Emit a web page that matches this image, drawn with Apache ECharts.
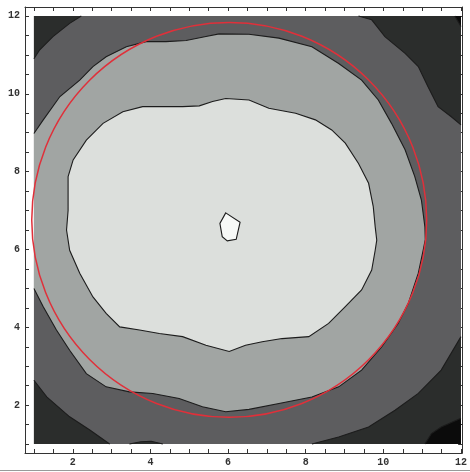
<!DOCTYPE html>
<html>
<head>
<meta charset="utf-8">
<script src="https://cdn.jsdelivr.net/npm/echarts@6/dist/echarts.min.js"></script>
<style>
  html, body { margin: 0; background: #fff; }
  #chart { width: 470px; height: 472px; }
</style>
</head>
<body>
<div id="chart"></div>
<script>
// axis frame and plot range (data units)
const xRange = [0.77, 12.03]
const yRange = [0.77, 12.23]
const plotBox = [[1, 1], [12, 1], [12, 12], [1, 12]]
const tickLabels = [2, 4, 6, 8, 10, 12]
const tickValues = [1, 1.5, 2, 2.5, 3, 3.5, 4, 4.5, 5, 5.5, 6, 6.5, 7, 7.5, 8, 8.5, 9, 9.5, 10, 10.5, 11, 11.5, 12]

// contour boundaries
const darkTopLeft = [[2.22, 12], [1.92, 11.81], [1.49, 11.47], [1.15, 11.13], [1, 10.9]]
const darkTopRight = [[9.36, 12], [9.70, 11.90], [10.04, 11.47], [10.56, 11.04], [10.90, 10.70], [11.15, 10.18], [11.41, 9.67], [11.75, 9.41], [12, 9.20]]
const darkBottomLeft = [[1, 2.64], [1.33, 2.21], [1.92, 1.70], [2.44, 1.36], [2.95, 1]]
const darkBottomRight = [[8.16, 1], [8.85, 1.18], [9.62, 1.44], [10.30, 1.87], [10.90, 2.30], [11.49, 2.90], [12, 3.76]]
const darkBump = [[3.46, 1], [3.75, 1.06], [4.02, 1.07], [4.32, 1]]
const blackTopRight = [[11.84, 12], [12, 11.73]]
const blackBottomRight = [[11.07, 1], [11.24, 1.27], [11.49, 1.44], [12, 1.66]]

const midBand = [
  [1, 8.98], [1.24, 9.33], [1.67, 9.93], [2.18, 10.35], [2.52, 10.70], [2.86, 10.95], [3.38, 11.21],
  [3.89, 11.34], [4.40, 11.34], [4.92, 11.37], [5.43, 11.47], [5.77, 11.54], [6.54, 11.53],
  [7.31, 11.43], [8.16, 11.21], [8.85, 10.78], [9.44, 10.35], [9.87, 9.84], [10.21, 9.24],
  [10.56, 8.56], [10.81, 7.87], [10.98, 7.27], [11.07, 6.58], [11.08, 6.25], [11.03, 6.0],
  [10.90, 5.39], [10.64, 4.61], [10.38, 4.10], [9.96, 3.50], [9.44, 2.90], [8.85, 2.47],
  [8.16, 2.21], [7.31, 2.04], [6.54, 1.89], [5.94, 1.83], [5.34, 1.96], [4.74, 2.17],
  [4.06, 2.30], [3.46, 2.34], [2.86, 2.47], [2.35, 2.81], [1.92, 3.41], [1.58, 3.93],
  [1.24, 4.53], [1, 5.0]
]

const innerBlob = [
  [1.88, 7.87], [2.01, 8.30], [2.35, 8.81], [2.78, 9.24], [3.29, 9.54], [3.80, 9.67], [4.32, 9.67],
  [4.83, 9.67], [5.26, 9.69], [5.60, 9.80], [5.94, 9.88], [6.54, 9.84], [7.05, 9.63], [7.74, 9.50],
  [8.25, 9.33], [8.67, 9.07], [9.02, 8.73], [9.36, 8.21], [9.62, 7.70], [9.74, 7.10], [9.79, 6.58],
  [9.83, 6.24], [9.79, 5.98], [9.70, 5.47], [9.44, 4.96], [9.02, 4.53], [8.59, 4.10], [8.08, 3.76],
  [7.39, 3.71], [6.88, 3.63], [6.45, 3.54], [6.03, 3.38], [5.43, 3.54], [4.83, 3.76], [4.23, 3.84],
  [3.72, 3.93], [3.21, 4.01], [2.86, 4.36], [2.52, 4.78], [2.18, 5.39], [1.92, 5.98], [1.84, 6.50],
  [1.88, 7.0]
]

const whitePeak = [[5.94, 6.94], [6.31, 6.70], [6.21, 6.26], [5.98, 6.22], [5.85, 6.33], [5.79, 6.67]]

// red circle: centre x, centre y, radius
const circle = [[6.03, 6.76, 5.08]]

const colors = {
  black: '#0b0b0b',
  darkest: '#2b2d2c',
  dark: '#5d5d5f',
  mid: '#a1a5a3',
  light: '#dcdfdc',
  white: '#f7f9f7',
  contour: '#1c1c1c',
  ring: '#e0303a',
}

let zOrder = 1
function fillSeries(pts, fill) {
  return {
    type: 'custom', silent: true, animation: false, z: zOrder++, data: [0],
    renderItem: (params, api) => ({
      type: 'polygon',
      shape: { points: pts.map(p => api.coord(p)) },
      style: { fill },
    }),
  }
}
function lineSeries(pts, closed) {
  return {
    type: 'custom', silent: true, animation: false, z: 20, data: [0],
    renderItem: (params, api) => ({
      type: closed ? 'polygon' : 'polyline',
      shape: { points: pts.map(p => api.coord(p)) },
      style: { fill: 'none', stroke: colors.contour, lineWidth: 1.1 },
    }),
  }
}

const axisFont = { fontFamily: 'Liberation Mono', fontWeight: 'bold', fontSize: 10, color: '#333' }
function frameAxis(position, labels) {
  return {
    type: 'value', position,
    min: position === 'top' || position === 'bottom' ? xRange[0] : yRange[0],
    max: position === 'top' || position === 'bottom' ? xRange[1] : yRange[1],
    axisLine: { show: true, onZero: false, lineStyle: { color: '#333', width: 1 } },
    axisTick: { show: true, inside: true, length: 4, customValues: tickValues, lineStyle: { color: '#333' } },
    axisLabel: labels
      ? { show: true, customValues: tickLabels, margin: position === 'left' ? 5 : 4, ...axisFont }
      : { show: false },
    splitLine: { show: false },
  }
}

const chart = echarts.init(document.getElementById('chart'), null, { renderer: 'canvas' })
chart.setOption({
  animation: false,
  grid: { left: 25, right: 6, top: 7, bottom: 19, containLabel: false },
  xAxis: [frameAxis('bottom', true), frameAxis('top', false)],
  yAxis: [frameAxis('left', true), frameAxis('right', false)],
  graphic: [{
    type: 'line', shape: { x1: 0, y1: 470.5, x2: 470, y2: 470.5 },
    style: { stroke: '#9a9a9a', lineWidth: 1 },
  }],
  series: [
    fillSeries(plotBox, colors.dark),
    fillSeries(darkTopLeft.concat([[1, 12]]), colors.darkest),
    fillSeries(darkTopRight.concat([[12, 12]]), colors.darkest),
    fillSeries(darkBottomLeft.concat([[1, 1]]), colors.darkest),
    fillSeries(darkBottomRight.concat([[12, 1]]), colors.darkest),
    fillSeries(darkBump, colors.darkest),
    fillSeries(blackTopRight.concat([[12, 12]]), colors.black),
    fillSeries(blackBottomRight.concat([[12, 1]]), colors.black),
    fillSeries(midBand, colors.mid),
    fillSeries(innerBlob, colors.light),
    fillSeries(whitePeak, colors.white),
    lineSeries(darkTopLeft, false),
    lineSeries(darkTopRight, false),
    lineSeries(darkBottomLeft, false),
    lineSeries(darkBottomRight, false),
    lineSeries(darkBump, false),
    lineSeries(blackTopRight, false),
    lineSeries(blackBottomRight, false),
    lineSeries(midBand, false),
    lineSeries(innerBlob, true),
    lineSeries(whitePeak, true),
    {
      type: 'custom', silent: true, animation: false, z: 30, data: circle,
      renderItem: (params, api) => {
        const c = api.coord([api.value(0), api.value(1)])
        const s = api.size([api.value(2), api.value(2)])
        return {
          type: 'circle',
          shape: { cx: c[0], cy: c[1], r: (s[0] + s[1]) / 2 },
          style: { fill: 'none', stroke: colors.ring, lineWidth: 1.5 },
        }
      },
    },
  ],
})
</script>
</body>
</html>
